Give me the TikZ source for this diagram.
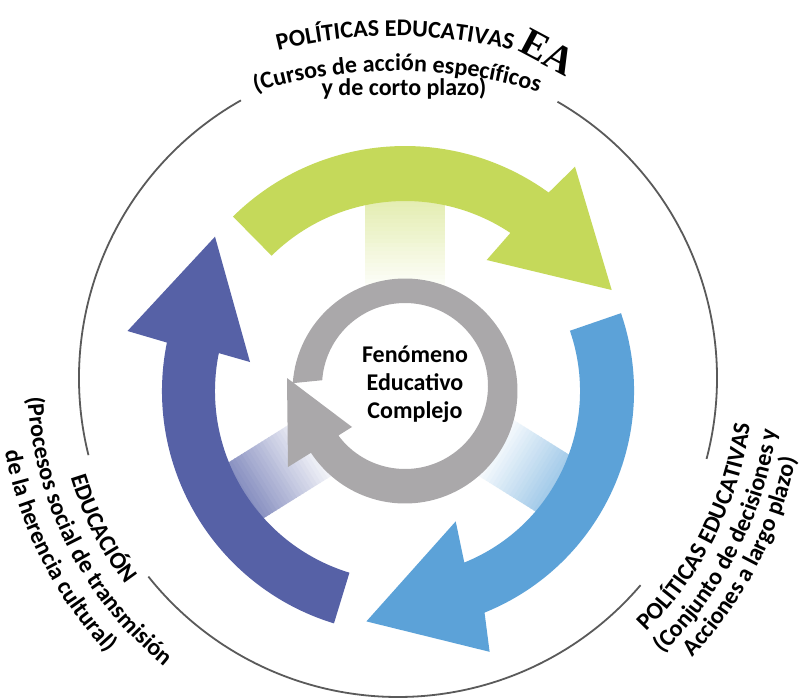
\documentclass[tikz,border=0pt]{standalone}
\usepackage{fontspec}
\setmainfont{Carlito}
\newfontfamily\eafont{Liberation Serif}
\usetikzlibrary{calc,decorations.text}
\definecolor{cgreen}{HTML}{C5D95A}
\definecolor{cltblue}{HTML}{5CA2D8}
\definecolor{cdkblue}{HTML}{5661A6}
\definecolor{cgray}{HTML}{AAA8AA}
\definecolor{cline}{HTML}{5A5A5A}
\newcommand\sidefont{\bfseries\fontsize{24}{28}\selectfont}
\newcommand\topfont{\bfseries\fontsize{24}{28}\selectfont}
\begin{document}
\begin{tikzpicture}[x=1pt,y=-1pt,
  ringline/.style={line width=1.8pt, draw=cline},
  arctext/.style={decorate, decoration={text along path, text align=center, text={#1}}}]
\useasboundingbox (0,0) rectangle (801,698);
\fill[white] (0,0) rectangle (801,698);
\coordinate (O) at (398,378);
\coordinate (A) at (405,391);
\coordinate (B) at (395,391);
\coordinate (GO) at (405,391);
\coordinate (GI) at (405,386);
\coordinate (T1) at (395,518);
\coordinate (T2) at (397,553);

% outer circle segments
\draw[ringline] ($(O)+(166:319)$) arc[start angle=166,end angle=240.5,radius=319];
\draw[ringline] ($(O)+(-60:319)$) arc[start angle=-60,end angle=14.7,radius=319];
\draw[ringline] ($(O)+(40.5:319)$) arc[start angle=40.5,end angle=141.5,radius=319];

% gradient spokes
\foreach \ph/\col/\w/\mx in {270/cgreen/80/50, 32/cltblue/66/70, 148/cdkblue/66/75} {
  \begin{scope}[shift={(A)}, rotate=-\ph]
    \foreach \i in {0,...,23}{
      \pgfmathtruncatemacro{\p}{2+\i*(\mx-2)/23}
      \pgfmathsetmacro{\ra}{100+\i*4}
      \pgfmathsetmacro{\rb}{\ra+4.8}
      \fill[\col!\p!white] (\ra,-\w/2) rectangle (\rb,\w/2);
    }
  \end{scope}
}

% green arrow
\fill[cgreen] ($(A)+(225.4:245)$) arc[start angle=225.4,end angle=305.9,radius=245]
  -- (575,166.7) -- (611.7,290) -- (486.7,260)
  -- ($(A)+(303.7:190)$) arc[start angle=303.7,end angle=225.4,radius=190] -- cycle;
% dark blue arrow
\fill[cdkblue] ($(A)+(107:243)$) arc[start angle=107,end angle=191.5,radius=243]
  -- (127.5,331) -- (215,236.7) -- (250,362)
  -- ($(A)+(191.5:190)$) arc[start angle=191.5,end angle=107,radius=190] -- cycle;
% light blue arrow
\fill[cltblue] ($(B)+(-19:239)$) arc[start angle=-19,end angle=68,radius=239]
  -- (489.6,651.8) -- (366.4,621.4) -- (455.7,521.4)
  -- ($(B)+(68:185)$) arc[start angle=68,end angle=-19,radius=185] -- cycle;
% gray ring arrow
\fill[cgray] ($(GO)+(184:112.5)$) arc[start angle=184,end angle=506.7,radius=112.5]
  -- (288,467) -- (287,378) -- (352,427)
  -- ($(GI)+(503.4:83)$) arc[start angle=503.4,end angle=184,radius=83] -- cycle;

% center text
\node[font=\bfseries\fontsize{24}{28}\selectfont, align=center] (fen) at (415,384) {Fenómeno\\Educativo\\Complejo};

% top texts
\path[arctext={|\topfont|POLÍTICAS EDUCATIVAS}] ($(T1)+(225:482)$) arc[start angle=225,end angle=315,radius=482];
\path[arctext={|\topfont|(Cursos de acción específicos}] ($(T2)+(225:482)$) arc[start angle=225,end angle=315,radius=482];
\node[font=\topfont, anchor=base] (corto) at (404,96) {y de corto plazo)};
\node[font=\eafont\bfseries\fontsize{40}{40}\selectfont, rotate=-28] (ea) at (548,52) {EA};

% left texts
\path[arctext={|\sidefont|EDUCACIÓN}] ($(O)+(190:342)$) arc[start angle=190,end angle=116,radius=342];
\path[arctext={|\sidefont|(Procesos social de transmisión}] ($(O)+(190:371)$) arc[start angle=190,end angle=116,radius=371];
\path[arctext={|\sidefont|de la herencia cultural)}] ($(O)+(190:400)$) arc[start angle=190,end angle=116,radius=400];

% right texts
\path[arctext={|\sidefont|POLÍTICAS EDUCATIVAS}] ($(O)+(63.5:355)$) arc[start angle=63.5,end angle=-10.5,radius=355];
\path[arctext={|\sidefont|(Conjunto de decisiones y}] ($(O)+(64:382)$) arc[start angle=64,end angle=-10,radius=382];
\path[arctext={|\sidefont|Acciones a largo plazo)}] ($(O)+(64.5:406)$) arc[start angle=64.5,end angle=-9.5,radius=406];
\end{tikzpicture}
\end{document}
